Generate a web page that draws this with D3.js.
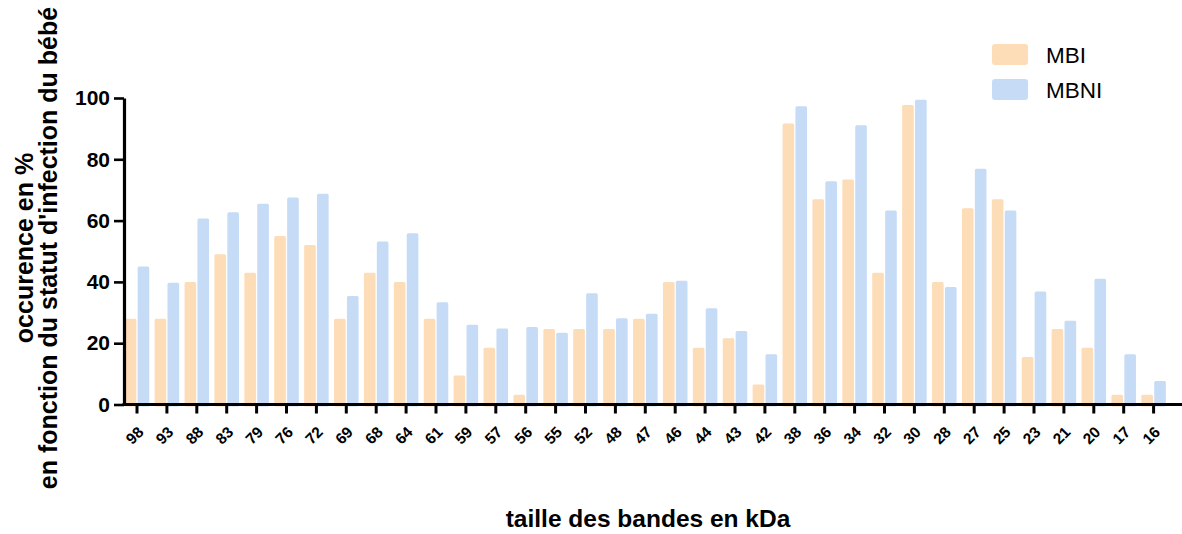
<!DOCTYPE html>
<html>
<head>
<meta charset="utf-8">
<script src="https://cdn.jsdelivr.net/npm/d3@7"></script>
<style>
  html, body { margin: 0; padding: 0; background: #fff; }
  svg { display: block; font-family: "Liberation Sans", Arial, sans-serif; }
</style>
</head>
<body>
<svg id="chart" width="1182" height="534"></svg>
<script>
const categories = ["98","93","88","83","79","76","72","69","68","64","61","59","57","56","55","52","48","47","46","44","43","42","38","36","34","32","30","28","27","25","23","21","20","17","16"];
const seriesNames = ["MBI", "MBNI"];
const mbi  = [28,28,40,49,43,55,52,28,43,40,28,9.5,18.5,3.2,24.6,24.6,24.6,28,40,18.5,21.6,6.5,91.7,67,73.4,43,97.7,40,64,67,15.5,24.6,18.5,3.2,3.2];
const mbni = [45,39.7,60.7,62.7,65.5,67.5,68.8,35.4,53.2,55.9,33.4,26,24.8,25.3,23.4,36.3,28.1,29.6,40.4,31.4,24,16.4,97.3,72.8,91.1,63.3,99.4,38.3,76.9,63.3,36.9,27.3,41,16.4,7.7];
const yTicks = [0, 20, 40, 60, 80, 100];
const colors = ["#FDDCB8", "#C5DBF6"];
const yTitleLines = ["occurence en %", "en fonction du statut d'infection du bébé"];
const xTitle = "taille des bandes en kDa";

const svg = d3.select("#chart");
const step = 29.9;
const x0 = 137 - step / 2;
const x = d3.scaleBand().domain(categories)
  .range([x0, x0 + step * categories.length])
  .paddingInner(0.18).paddingOuter(0.09);
const xs = d3.scaleBand().domain(seriesNames).range([0, x.bandwidth()]).paddingInner(0.1);
const y = d3.scaleLinear().domain([0, 100]).range([404.5, 98]);

const data = categories.map((c, i) => ({ cat: c, vals: [mbi[i], mbni[i]] }));

// bars
const g = svg.append("g");
data.forEach(d => {
  d.vals.forEach((v, k) => {
    g.append("rect")
      .attr("x", x(d.cat) + xs(seriesNames[k]))
      .attr("y", y(v))
      .attr("width", xs.bandwidth())
      .attr("height", y(0) - y(v) + 2)
      .attr("rx", 1.5)
      .attr("fill", colors[k]);
  });
});

// y axis
const yAxis = d3.axisLeft(y).tickValues(yTicks).tickSize(10).tickPadding(4).tickSizeOuter(0);
const ya = svg.append("g").attr("transform", "translate(124,0)").call(yAxis);
ya.select(".domain").attr("stroke", "#000").attr("stroke-width", 3.2);
ya.selectAll(".tick line").attr("stroke", "#000").attr("stroke-width", 2.6);
ya.selectAll(".tick text").attr("font-size", 21).attr("font-weight", "bold").attr("fill", "#000")
  .attr("font-family", "Liberation Sans, Arial, sans-serif");

// x axis
const xAxis = d3.axisBottom(x).tickSize(9).tickSizeOuter(0).tickPadding(6);
const xa = svg.append("g").attr("transform", "translate(0," + y(0) + ")").call(xAxis);
xa.select(".domain").remove();
xa.append("line").attr("x1", 122.5).attr("x2", 1182).attr("y1", 0).attr("y2", 0)
  .attr("stroke", "#000").attr("stroke-width", 3.2);
xa.selectAll(".tick line").attr("stroke", "#000").attr("stroke-width", 3);
xa.selectAll(".tick text")
  .attr("font-size", 15.5).attr("font-weight", "bold").attr("fill", "#000")
  .attr("font-family", "Liberation Sans, Arial, sans-serif")
  .attr("text-anchor", "end")
  .attr("dy", null)
  .attr("transform", "translate(4,25) rotate(-45)")
  .attr("y", 5).attr("x", 0);

// y title
const yt = svg.append("text")
  .attr("transform", "translate(33,248) rotate(-90)")
  .attr("text-anchor", "middle")
  .attr("font-size", 25).attr("font-weight", "bold").attr("fill", "#000");
yTitleLines.forEach((t, i) => {
  yt.append("tspan").attr("x", 0).attr("y", i * 24).text(t);
});

// x title
svg.append("text")
  .attr("x", 648).attr("y", 527)
  .attr("text-anchor", "middle")
  .attr("font-size", 24.5).attr("font-weight", "bold").attr("fill", "#000")
  .text(xTitle);

// legend
const leg = svg.append("g");
const legY = [44, 79];
seriesNames.forEach((s, k) => {
  leg.append("rect").attr("x", 992).attr("y", legY[k]).attr("width", 36).attr("height", 21)
    .attr("rx", 3).attr("fill", colors[k]);
  leg.append("text").attr("x", 1046).attr("y", legY[k] + 18.5)
    .attr("font-size", 22.5).attr("fill", "#000").text(s);
});
</script>
</body>
</html>
